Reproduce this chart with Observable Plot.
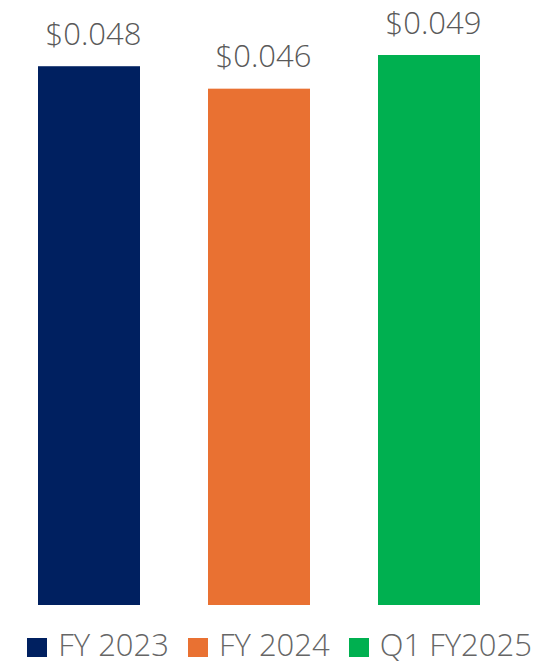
<!DOCTYPE html>
<html>
<head>
<meta charset="utf-8">
<script src="https://cdn.jsdelivr.net/npm/d3@7"></script>
<script src="https://cdn.jsdelivr.net/npm/@observablehq/plot@0.6"></script>
<style>
  html, body { margin: 0; padding: 0; background: #fff; }
  #wrap { position: relative; width: 559px; height: 666px; overflow: hidden; }
  #legend { position: absolute; left: 0; top: 627px; width: 559px; height: 34px;
    display: flex; justify-content: center; align-items: flex-start;
    font-family: "Open Sans", sans-serif; font-size: 31px; font-weight: 300; line-height: 34px; color: #666666; }
  .item { display: flex; align-items: flex-start; margin: 0 9.5px; }
  .sw { width: 20px; height: 19px; margin-right: 11px; margin-top: 11px; }
</style>
</head>
<body>
<div id="wrap"><div id="chart"></div><div id="legend"></div></div>
<script>
const categories = ["FY 2023", "FY 2024", "Q1 FY2025"];
const values = [0.048, 0.046, 0.049];
const colors = ["#002060", "#E97132", "#00B050"];

const data = categories.map((c, i) => ({category: c, value: values[i]}));

const chart = Plot.plot({
  width: 559,
  height: 620,
  marginTop: 55,
  marginBottom: 15,
  marginLeft: 37,
  marginRight: 79,
  x: {domain: categories, paddingInner: 0.4, paddingOuter: 0, axis: null},
  y: {domain: [0, 0.049], axis: null},
  color: {domain: categories, range: colors},
  marks: [
    Plot.barY(data, {x: "category", y: "value", fill: "category"}),
    Plot.text(data, {x: "category", y: "value", text: d => "$" + d3.format(".3f")(d.value),
      lineAnchor: "bottom", dy: -22, dx: 4, fontSize: 31, fontWeight: 300, fill: "#595959",
      fontFamily: "Open Sans"})
  ]
});
chart.style.fontFamily = "Open Sans";
document.getElementById("chart").appendChild(chart);

const legend = document.getElementById("legend");
categories.forEach((c, i) => {
  const item = document.createElement("div");
  item.className = "item";
  const sw = document.createElement("div");
  sw.className = "sw";
  sw.style.background = colors[i];
  const t = document.createElement("span");
  t.textContent = c;
  item.appendChild(sw);
  item.appendChild(t);
  legend.appendChild(item);
});
</script>
</body>
</html>
